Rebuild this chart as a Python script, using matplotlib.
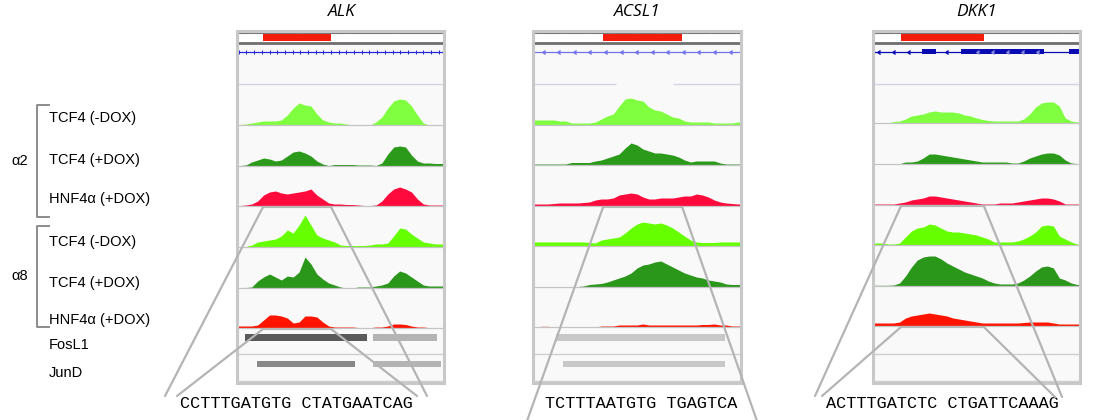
import numpy as np
import matplotlib
matplotlib.use('Agg')
import matplotlib.pyplot as plt
from matplotlib.patches import ConnectionPatch

W, H = 1096, 420
plt.rcParams['font.family'] = ['Liberation Sans', 'DejaVu Sans']

# --- data -------------------------------------------------------------
genes = ['ALK', 'ACSL1', 'DKK1']
track_labels = ['TCF4 (-DOX)', 'TCF4 (+DOX)', 'HNF4α (+DOX)']
groups = ['α2', 'α8']
extra_labels = ['FosL1', 'JunD']
sequences = ['CCTTTGATGTG CTATGAATCAG', 'TCTTTAATGTG TGAGTCA', 'ACTTTGATCTC CTGATTCAAAG']

# read coverage, 35 bins over each window (height in px)
alk_a2_tcf4_nodox = [0.5, 1, 2, 3, 4, 4, 4, 5, 10, 17, 22, 20, 19, 11, 5, 3, 2, 2, 1, 0, 0, 0, 0, 3, 8, 17, 24, 26, 25, 19, 10, 2, 0, 0, 0]
alk_a2_tcf4_dox = [0.5, 1, 4, 6, 8, 7, 5, 6, 10, 14, 15, 13, 10, 5, 2, 0.5, 1.5, 1.5, 1.5, 1.5, 1, 1, 1, 0.5, 3, 12, 19, 20, 19, 11, 5, 3, 3, 2.5, 2.5]
alk_a2_hnf4a = [0.5, 1, 2, 5, 11, 14, 15, 13, 12, 13, 14, 15, 17, 11, 7, 3, 2, 2, 1.5, 1.5, 1, 0.5, 0.5, 1, 5, 12, 17, 19, 17, 14, 7, 2, 1, 1, 1]
alk_a8_tcf4_nodox = [0, 0.5, 2, 5, 6, 7, 8, 11, 17, 14, 22, 32, 22, 12, 9, 7, 5, 2, 1.5, 1.5, 1.5, 1.5, 2, 3, 3, 4, 11, 19, 18, 13, 9, 5, 4, 3, 3]
alk_a8_tcf4_dox = [0, 0.5, 1, 7, 11, 14, 11, 8, 12, 11, 16, 31, 24, 14, 9, 5, 3, 1, 0, 0, 1, 1, 1, 2, 3, 5, 12, 17, 15, 11, 7, 3, 2, 2, 2]
alk_a8_hnf4a = [2, 2, 2, 3, 8, 13, 13, 12, 10, 5, 6, 12, 12, 11, 6, 2, 1, 1, 1, 1, 0.5, 0, 0.3, 1, 1, 2, 4, 4, 3.5, 2, 1, 1, 0.3, 0.5, 0.5]

acsl1_a2_tcf4_nodox = [5, 5, 5, 5, 4, 4, 2, 2, 2, 2, 3, 6, 9, 11, 19, 26, 27, 25, 24, 18, 15, 14, 11, 8, 7, 4, 3, 3, 3, 3, 2, 2, 2, 2, 3]
acsl1_a2_tcf4_dox = [1, 1, 1, 1, 1, 1, 2.5, 2.5, 2.5, 2.5, 4, 5, 7, 9, 11, 17, 22, 20, 16, 14, 12, 12, 11, 10, 8, 5, 3, 4, 4, 4, 4, 2, 1, 1, 1]
acsl1_a2_hnf4a = [2, 2, 2, 2.5, 3, 3, 3, 3, 3.5, 4, 6, 7, 7, 8, 11, 12, 13, 12, 9, 7, 7, 8, 8, 8, 9, 10, 10, 12, 11, 9, 6, 4, 3, 2.5, 2]
acsl1_a8_tcf4_nodox = [4, 4, 4, 4, 4, 4, 4, 4, 4, 3.5, 3, 6, 7, 8, 9, 13, 18, 22, 24, 23, 22, 23, 21, 18, 14, 10, 6, 4, 3.5, 3.5, 3.5, 4, 4, 4, 4]
acsl1_a8_tcf4_dox = [0, 0, 0, 0.3, 0.5, 0.5, 0.5, 0.5, 1, 2.5, 3, 3.5, 5, 7, 9, 11, 14, 19, 22, 23, 25, 26, 23, 20, 17, 14, 12, 10, 9, 7, 6, 5, 3, 2.5, 2.5]
acsl1_a8_hnf4a = [0, 0.7, 0.7, 0, 0, 0, 0, 0, 0, 0, 0, 1, 1, 1, 2, 2, 2, 2, 3, 2, 2, 2, 2, 2, 2, 2, 2, 2, 2.5, 2.5, 3, 2, 2, 1, 1]

dkk1_a2_tcf4_nodox = [0, 0, 0, 1.5, 2, 4, 7, 8, 9, 11, 12, 11, 11, 11, 10, 8, 7, 5, 3.5, 2.5, 2, 2, 2, 2, 2, 4, 9, 16, 20, 21, 21, 17, 5, 2, 1]
dkk1_a2_tcf4_dox = [0, 0, 0, 0, 0.3, 2, 2, 3, 6, 10, 10, 9, 8, 7, 6, 5, 4, 3, 2, 2, 2, 2, 2, 1, 1, 3, 6, 8, 10, 11, 11, 9, 4, 1, 0.5]
dkk1_a2_hnf4a = [1, 1, 1, 1, 2, 3, 5, 6, 7, 9, 9, 8, 7, 6, 5, 4, 3, 2, 1, 1, 1, 2, 2, 2, 3, 4, 5, 6, 7, 7, 6, 4, 1, 1, 1]
dkk1_a8_tcf4_nodox = [2, 2, 1, 1, 2, 8, 14, 17, 18, 21, 20, 17, 14, 13, 13, 12, 11, 10, 8, 6, 3, 3, 3, 3, 4, 6, 9, 13, 19, 20, 19, 9, 6, 3, 1]
dkk1_a8_tcf4_dox = [0.7, 0.7, 0.7, 1, 3, 10, 19, 26, 29, 30, 30, 27, 23, 20, 17, 14, 12, 10, 8, 5, 3, 2, 2, 2, 3, 6, 10, 15, 19, 20, 18, 8, 6, 3, 1.5]
dkk1_a8_hnf4a = [3, 3, 3, 3, 4, 8, 10, 11, 12, 13, 12, 11, 10, 8, 7, 6, 5, 4, 3, 3, 3, 3, 3, 3, 3, 3.5, 4, 4, 4, 4, 3, 2, 2, 2, 2]

coverage = {
    'ALK': [alk_a2_tcf4_nodox, alk_a2_tcf4_dox, alk_a2_hnf4a, alk_a8_tcf4_nodox, alk_a8_tcf4_dox, alk_a8_hnf4a],
    'ACSL1': [acsl1_a2_tcf4_nodox, acsl1_a2_tcf4_dox, acsl1_a2_hnf4a, acsl1_a8_tcf4_nodox, acsl1_a8_tcf4_dox, acsl1_a8_hnf4a],
    'DKK1': [dkk1_a2_tcf4_nodox, dkk1_a2_tcf4_dox, dkk1_a2_hnf4a, dkk1_a8_tcf4_nodox, dkk1_a8_tcf4_dox, dkk1_a8_hnf4a],
}

# highlighted region (red bar), in bins
regions = {'ALK': (4.4, 15.9), 'ACSL1': (11.8, 25.1), 'DKK1': (4.73, 18.75)}
# FosL1 / JunD peaks (start, end) in bins, strong then weak
fosl1_peaks = {'ALK': [(1.35, 22.0), (23.0, 33.8)], 'ACSL1': [(3.9, 32.3)], 'DKK1': []}
jund_peaks = {'ALK': [(3.4, 19.95), (23.0, 34.5)], 'ACSL1': [(5.05, 32.3)], 'DKK1': []}
dkk1_exons = [(8.3, 10.6), (14.9, 28.9), (33.1, 35.0)]

# --- layout / styles ---------------------------------------------------
nbins = 35
panel_x = {'ALK': (237, 444), 'ACSL1': (533, 741), 'DKK1': (873, 1080)}
title_x = {'ALK': 342, 'ACSL1': 637, 'DKK1': 977}
baselines = {'ALK': [125, 166, 206, 247, 288, 328],
             'ACSL1': [125, 165, 206, 246, 287, 327],
             'DKK1': [123, 164, 205, 245, 286, 326]}
track_colors = ['#7fff3f', '#2b9a1b', '#ff0a3c', '#66ff00', '#2a961a', '#ff1400']
ruler_ticks = {'ALK': (2.5, 8.15), 'ACSL1': (0.84, 4.17), 'DKK1': (3.7, 14.2)}
gene_color = {'ALK': '#2828d8', 'ACSL1': '#7272ee', 'DKK1': '#0a0ab4'}
Y0, Y1 = 31, 383

fig = plt.figure(figsize=(W / 100, H / 100), dpi=100)
over = fig.add_axes([0, 0, 1, 1])
over.set_xlim(0, W)
over.set_ylim(H, 0)
over.axis('off')

panel_axes = {}
for g in genes:
    x0, x1 = panel_x[g]
    ax = fig.add_axes([x0 / W, 1 - Y1 / H, (x1 - x0) / W, (Y1 - Y0) / H])
    panel_axes[g] = ax
    ax.set_xlim(0, nbins)
    ax.set_ylim(Y1, Y0)
    ax.set_facecolor('#f9f9f9')
    ax.set_xticks([])
    ax.set_yticks([])
    for s in ax.spines.values():
        s.set_color('#c8c8c8')
        s.set_linewidth(2.2)

    # ruler + region
    ax.axhspan(Y0, 45, color='white', lw=0)
    ax.axhline(33, color='#777777', lw=0.8)
    t0, dt = ruler_ticks[g]
    ax.vlines(np.arange(t0, nbins, dt), 31, 33, color='#999999', lw=0.7)
    r0, r1 = regions[g]
    ax.barh(37.3, r1 - r0, left=r0, height=7.5, color='#f41c0c', lw=0)
    ax.axhline(42.5, color='#6e6e6e', lw=2)

    # gene model
    gc = gene_color[g]
    ax.axhline(52, color=gc, lw=0.9)
    if g == 'ALK':
        tk = np.arange(0.3, nbins, 1.3)
        ax.plot(tk, [52] * len(tk), '|', color=gc, ms=3, mew=0.7)
    elif g == 'ACSL1':
        tk = np.arange(1.47, nbins, 2.62)
        ax.plot(tk, [52] * len(tk), marker=4, ls='none', color=gc, ms=3, mew=0.8)
    else:
        ax.plot([0.68, 3.2, 5.75, 12.2], [52] * 4, marker=4, ls='none', color=gc, ms=3, mew=0.8)
        for e0, e1 in dkk1_exons:
            ax.barh(51.5, e1 - e0, left=e0, height=5.5, color=gc, lw=0)
        ax.plot([17.4, 19.9, 22.5, 25.0, 27.6], [51.5] * 5, marker=4, ls='none', color='#8a8ad8', ms=2.5, mew=0.7)

    if g == 'ACSL1':
        ax.hlines([84, 84], [0, 23.5], [14.0, nbins], color='#d4d4e2', lw=1)
    else:
        ax.axhline(84, color='#d4d4e2', lw=1)

    # coverage tracks (values at bin centres)
    xs = np.concatenate([[0], np.arange(nbins) + 0.5, [nbins]])
    for k, vals in enumerate(coverage[g]):
        b = baselines[g][k]
        v = np.concatenate([[vals[0]], vals, [vals[-1]]])
        ax.fill_between(xs, b - v, b, color=track_colors[k], lw=0)
        ax.axhline(b, color='#c4c4c4', lw=0.9, zorder=1)

    # FosL1 / JunD
    fos_cols = ['#5a5a5a', '#b4b4b4'] if g == 'ALK' else ['#c8c8c8']
    jun_cols = ['#888888', '#b4b4b4'] if g == 'ALK' else ['#c8c8c8']
    for (p0, p1), c in zip(fosl1_peaks[g], fos_cols):
        ax.barh(337.5, p1 - p0, left=p0, height=7, color=c, lw=0)
    for (p0, p1), c in zip(jund_peaks[g], jun_cols):
        ax.barh(364, p1 - p0, left=p0, height=6.5, color=c, lw=0)
    ax.axhline(354, color='#d0d0d0', lw=1)
    ax.axhline(381, color='#d0d0d0', lw=1)

    over.text(title_x[g], 12, g, ha='center', va='center', fontsize=12.5,
              style='italic', family=['Open Sans', 'DejaVu Sans'])

# zoom connectors: (track index, region side, end point in px)
zoom_lines = {
    'ALK': [(2, 0, (165, 396)), (2, 1, (427, 396)), (5, 0, (177, 396)), (5, 1, (417, 396))],
    'ACSL1': [(2, 0, (527, 421)), (2, 1, (757, 421))],
    'DKK1': [(2, 0, (815, 396)), (2, 1, (1062, 397)), (5, 0, (822, 396)), (5, 1, (1055, 397))],
}
for g in genes:
    ax = panel_axes[g]
    r = regions[g]
    for k, side, end in zoom_lines[g]:
        b = baselines[g][k] + 1
        ax.plot(r, [b, b], color='#b8b8b8', lw=1.5, zorder=5)
        con = ConnectionPatch(xyA=(r[side], b), coordsA=ax.transData, xyB=end, coordsB=over.transData,
                              color='#b4b4b4', lw=1.6)
        fig.add_artist(con)

seq_x = [296, 641, 942]
for g, s, x in zip(genes, sequences, seq_x):
    over.text(x, 404, s, ha='center', va='center', fontsize=12.2, family='Liberation Mono')

# left labels
label_y = [118, 160, 199, 242, 283, 320]
for i, y in enumerate(label_y):
    over.text(49, y, track_labels[i % 3], ha='left', va='center', fontsize=10.5)
for lab, y in zip(extra_labels, [345, 373]):
    over.text(49, y, lab, ha='left', va='center', fontsize=10.5)
for lab, (ya, yb) in zip(groups, [(105, 217), (226, 327)]):
    over.plot([49, 37, 37, 49], [ya, ya, yb, yb], color='#8c8c8c', lw=1.4)
    over.text(20, (ya + yb) / 2, lab, ha='center', va='center', fontsize=10.5)

fig.savefig('out.png', dpi=100)
